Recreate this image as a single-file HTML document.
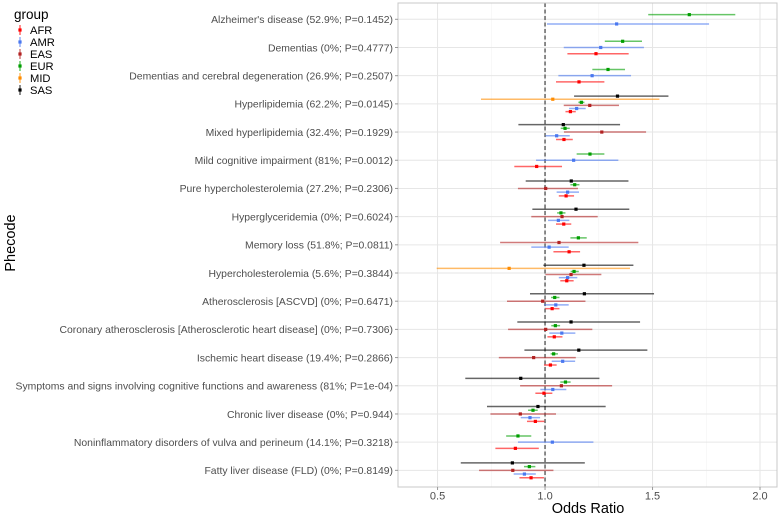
<!DOCTYPE html>
<html><head><meta charset="utf-8">
<style>
body{margin:0;background:#fff;}
svg{display:block;font-family:"Liberation Sans",Arial,sans-serif;}
</style></head>
<body>
<svg id="chart" width="780" height="516"></svg>
<script>
const categories = ["Alzheimer's disease (52.9%; P=0.1452)","Dementias (0%; P=0.4777)","Dementias and cerebral degeneration (26.9%; P=0.2507)","Hyperlipidemia (62.2%; P=0.0145)","Mixed hyperlipidemia (32.4%; P=0.1929)","Mild cognitive impairment (81%; P=0.0012)","Pure hypercholesterolemia (27.2%; P=0.2306)","Hyperglyceridemia (0%; P=0.6024)","Memory loss (51.8%; P=0.0811)","Hypercholesterolemia (5.6%; P=0.3844)","Atherosclerosis [ASCVD] (0%; P=0.6471)","Coronary atherosclerosis [Atherosclerotic heart disease] (0%; P=0.7306)","Ischemic heart disease (19.4%; P=0.2866)","Symptoms and signs involving cognitive functions and awareness (81%; P=1e-04)","Chronic liver disease (0%; P=0.944)","Noninflammatory disorders of vulva and perineum (14.1%; P=0.3218)","Fatty liver disease (FLD) (0%; P=0.8149)"];
const groups = ["SAS","MID","EUR","EAS","AMR","AFR"];
const legendGroups = ["AFR","AMR","EAS","EUR","MID","SAS"];
const xTicks = [0.5,1.0,1.5,2.0];
const xTickLabels = ["0.5","1.0","1.5","2.0"];
// each row: [group, OR, lower, upper]
const estimates = [
 [["EUR",1.671,1.48,1.885],["AMR",1.333,1.009,1.763]],
 [["EUR",1.361,1.278,1.451],["AMR",1.259,1.087,1.46],["AFR",1.237,1.104,1.389]],
 [["EUR",1.293,1.22,1.372],["AMR",1.219,1.062,1.4],["AFR",1.158,1.051,1.276]],
 [["SAS",1.337,1.135,1.574],["MID",1.036,0.702,1.532],["EUR",1.169,1.155,1.183],["EAS",1.208,1.087,1.344],["AMR",1.147,1.112,1.189],["AFR",1.118,1.095,1.143]],
 [["SAS",1.085,0.876,1.349],["EUR",1.093,1.073,1.115],["EAS",1.264,1.088,1.47],["AMR",1.054,1.002,1.115],["AFR",1.088,1.051,1.129]],
 [["EUR",1.209,1.147,1.276],["AMR",1.133,0.958,1.341],["AFR",0.961,0.857,1.079]],
 [["SAS",1.122,0.910,1.388],["EUR",1.138,1.118,1.160],["EAS",1.003,0.874,1.153],["AMR",1.105,1.054,1.158],["AFR",1.098,1.064,1.135]],
 [["SAS",1.144,0.941,1.392],["EUR",1.074,1.056,1.095],["EAS",1.079,0.936,1.245],["AMR",1.062,1.014,1.113],["AFR",1.087,1.051,1.122]],
 [["EUR",1.155,1.118,1.194],["EAS",1.065,0.791,1.434],["AMR",1.019,0.936,1.110],["AFR",1.112,1.039,1.163]],
 [["SAS",1.181,0.992,1.411],["MID",0.833,0.496,1.395],["EUR",1.135,1.119,1.157],["EAS",1.121,1.002,1.262],["AMR",1.105,1.064,1.150],["AFR",1.101,1.071,1.133]],
 [["SAS",1.183,0.930,1.507],["EUR",1.045,1.028,1.067],["EAS",0.989,0.823,1.188],["AMR",1.050,0.995,1.110],["AFR",1.033,1.001,1.067]],
 [["SAS",1.121,0.871,1.442],["EUR",1.048,1.029,1.070],["EAS",1.003,0.828,1.220],["AMR",1.078,1.020,1.141],["AFR",1.043,1.011,1.081]],
 [["SAS",1.157,0.904,1.476],["EUR",1.040,1.026,1.060],["EAS",0.947,0.785,1.143],["AMR",1.082,1.031,1.140],["AFR",1.025,0.995,1.054]],
 [["SAS",0.887,0.629,1.253],["EUR",1.095,1.071,1.119],["EAS",1.076,0.884,1.312],["AMR",1.036,0.978,1.099],["AFR",0.995,0.955,1.034]],
 [["SAS",0.967,0.730,1.282],["EUR",0.944,0.921,0.966],["EAS",0.885,0.746,1.051],["AMR",0.930,0.887,0.977],["AFR",0.955,0.916,0.997]],
 [["EUR",0.874,0.819,0.936],["AMR",1.034,0.874,1.225],["AFR",0.862,0.769,0.971]],
 [["SAS",0.848,0.608,1.185],["EUR",0.927,0.902,0.955],["EAS",0.850,0.693,1.039],["AMR",0.904,0.854,0.957],["AFR",0.935,0.881,0.995]]
];
const colors = {AFR:"#FF0000",AMR:"#4A78F0",EAS:"#B22222",EUR:"#009E00",MID:"#FF8C00",SAS:"#000000"};

const NS="http://www.w3.org/2000/svg";
const svg=document.getElementById('chart');
function mk(tag,attrs,parent){const e=document.createElementNS(NS,tag);for(const k in attrs)e.setAttribute(k,attrs[k]);(parent||svg).appendChild(e);return e;}
const L=398,R=777,T=3,B=487;
const xMin=0.316,xMax=2.079;
function x(v){return L+(v-xMin)/(xMax-xMin)*(R-L);}
const rowTop=19.3,rowStep=28.19;
function yRow(i){return rowTop+i*rowStep;}
const dodgeW=18.6;

mk('rect',{x:L,y:T,width:R-L,height:B-T,fill:"#fff"});
[0.75,1.25,1.75].forEach(v=>{const g=mk('line',{x1:x(v),x2:x(v),y1:T,y2:B,stroke:"#f2f2f2","stroke-width":0.6});});
xTicks.forEach(v=>{const g=mk('line',{x1:x(v),x2:x(v),y1:T,y2:B,stroke:"#e6e6e6","stroke-width":1});});
categories.forEach((c,i)=>{const g=mk('line',{x1:L,x2:R,y1:yRow(i),y2:yRow(i),stroke:"#e6e6e6","stroke-width":1});});
const ref=mk('line',{x1:x(1),x2:x(1),y1:T,y2:B,stroke:"#6e6e6e","stroke-width":1.6,"stroke-dasharray":"4,2.5"});



estimates.forEach((row,i)=>{
  const n=row.length;const sp=dodgeW/n;
  row.forEach((d,j)=>{
    const yy=yRow(i)+(j-(n-1)/2)*sp;
    const col=colors[d[0]];
    const g=mk('g',{});
    
    
    mk('line',{x1:x(d[2]),x2:x(d[3]),y1:yy,y2:yy,stroke:col,"stroke-width":1.5,"stroke-opacity":0.6},g);
    mk('rect',{x:x(d[1])-1.6,y:yy-1.6,width:3.2,height:3.2,fill:col},g);
  });
});
mk('rect',{x:L,y:T,width:R-L,height:B-T,fill:"none",stroke:"#c8c8c8","stroke-width":1});

categories.forEach((c,i)=>{
  const tk=mk('line',{x1:L-3,x2:L,y1:yRow(i),y2:yRow(i),stroke:"#999"});
  
  const t=mk('text',{x:393,y:yRow(i)+3.8,"text-anchor":"end","font-size":"10.4",fill:"#4d4d4d"});t.textContent=c;});
xTicks.forEach((v,i)=>{
  const tk=mk('line',{x1:x(v),x2:x(v),y1:B,y2:B+3,stroke:"#999"});
  
  const t=mk('text',{x:x(v),y:B+12.5,"text-anchor":"middle","font-size":"11",fill:"#4d4d4d"});t.textContent=xTickLabels[i];
  
});
const xt=mk('text',{x:588,y:513,"text-anchor":"middle","font-size":"14.5",fill:"#000"});xt.textContent="Odds Ratio";

const yt=mk('text',{x:0,y:0,"text-anchor":"middle","font-size":"14.5",fill:"#000",transform:"translate(15,243) rotate(-90)"});yt.textContent="Phecode";


const lg=mk('g',{});


const lt=mk('text',{x:14,y:19,"font-size":"13.5",fill:"#000"},lg);lt.textContent="group";

legendGroups.forEach((gname,i)=>{
  const yy=30+i*12;
  const e=mk('g',{},lg);
  
  
  mk('line',{x1:20,x2:20,y1:yy-5,y2:yy+5,stroke:colors[gname],"stroke-width":1.5,"stroke-opacity":0.6},e);
  mk('rect',{x:18.4,y:yy-1.6,width:3.2,height:3.2,fill:colors[gname]},e);
  const t=mk('text',{x:30,y:yy+4,"font-size":"11.2",fill:"#000"},e);t.textContent=gname;
});
</script>
</body></html>
